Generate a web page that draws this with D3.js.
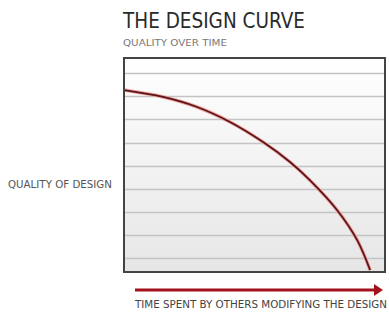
<!DOCTYPE html>
<html><head><meta charset="utf-8">
<script src="https://cdn.jsdelivr.net/npm/d3@7"></script>
<style>body{margin:0;background:#fff}svg{display:block}</style>
</head><body>
<script>
const title = "THE DESIGN CURVE";
const subtitle = "QUALITY OVER TIME";
const yLabel = "QUALITY OF DESIGN";
const xLabel = "TIME SPENT BY OTHERS MODIFYING THE DESIGN";
// time (0-100) vs quality (0-100)
const timeValues = [0, 15, 28, 40.6, 53.3, 63.6, 71.3, 81.6, 89.3, 94.3];
const qualityValues = [85, 81.8, 77.1, 70.1, 60.7, 51.4, 42.8, 29, 15, 0.9];
const gridValues = [6.5, 17.3, 28, 38.8, 49.5, 60.3, 71.5, 82.2, 93];

const W = 389, H = 318;
const svg = d3.select("body").append("svg").attr("width", W).attr("height", H);
const L = 124, R = 385, T = 58, B = 272;
const x = d3.scaleLinear().domain([0, 100]).range([L, R]);
const y = d3.scaleLinear().domain([0, 100]).range([B, T]);

const defs = svg.append("defs");
const g = defs.append("linearGradient").attr("id", "bg").attr("x1", 0).attr("x2", 0).attr("y1", 0).attr("y2", 1);
g.append("stop").attr("offset", "0%").attr("stop-color", "#ffffff");
g.append("stop").attr("offset", "100%").attr("stop-color", "#e6e6e6");

svg.append("rect").attr("x", L).attr("y", T).attr("width", R - L).attr("height", B - T)
  .attr("fill", "url(#bg)");

svg.append("g").selectAll("line").data(gridValues).join("line")
  .attr("x1", L).attr("x2", R)
  .attr("y1", d => Math.round(y(d)) + 0.5).attr("y2", d => Math.round(y(d)) + 0.5)
  .attr("stroke", "#c4c4c4").attr("stroke-width", 1.5);

const pts = timeValues.map((t, i) => [t, qualityValues[i]]);
const line = d3.line().x(d => x(d[0])).y(d => y(d[1])).curve(d3.curveCatmullRom.alpha(0.5));
svg.append("path").datum(pts).attr("d", line).attr("fill", "none")
  .attr("stroke", "#f0a0a0").attr("stroke-width", 3.5);
svg.append("path").datum(pts).attr("d", line).attr("fill", "none")
  .attr("stroke", "#5a1616").attr("stroke-width", 1.8);

svg.append("rect").attr("x", L).attr("y", T).attr("width", R - L).attr("height", B - T)
  .attr("fill", "none").attr("stroke", "#444").attr("stroke-width", 2);

svg.append("text").attr("x", 123).attr("y", 28).text(title)
  .attr("font-family", "DejaVu Sans").attr("font-size", 22).attr("fill", "#2a2a2a")
  .attr("textLength", 182).attr("lengthAdjust", "spacingAndGlyphs");
svg.append("text").attr("x", 123).attr("y", 46).text(subtitle)
  .attr("font-family", "DejaVu Sans").attr("font-size", 9.5).attr("fill", "#777")
  .attr("textLength", 104).attr("lengthAdjust", "spacingAndGlyphs");
svg.append("text").attr("x", 8).attr("y", 188).text(yLabel)
  .attr("font-family", "DejaVu Sans").attr("font-size", 10).attr("fill", "#555")
  .attr("textLength", 104).attr("lengthAdjust", "spacingAndGlyphs");
svg.append("text").attr("x", 135).attr("y", 308).text(xLabel)
  .attr("font-family", "DejaVu Sans").attr("font-size", 10).attr("fill", "#444")
  .attr("textLength", 252).attr("lengthAdjust", "spacingAndGlyphs");

// arrow
svg.append("line").attr("x1", 135).attr("x2", 376).attr("y1", 290).attr("y2", 290)
  .attr("stroke", "#a3121c").attr("stroke-width", 3);
svg.append("path").attr("d", "M374,284 L383,290 L374,296 Z").attr("fill", "#a3121c");
</script>
</body></html>
